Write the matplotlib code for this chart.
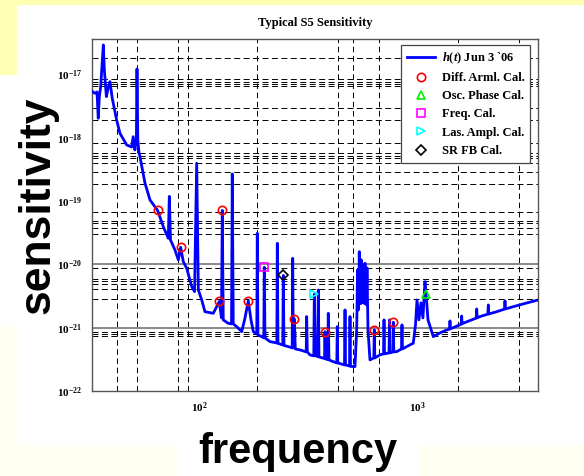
import numpy as np
import matplotlib
matplotlib.use("Agg")
import matplotlib.pyplot as plt
from matplotlib.patches import Rectangle
from matplotlib.ticker import FixedLocator, FuncFormatter, NullLocator

plt.rcParams['mathtext.fontset'] = 'custom'
plt.rcParams['mathtext.rm'] = 'Liberation Serif:bold'
plt.rcParams['mathtext.bf'] = 'Liberation Serif:bold'
plt.rcParams['mathtext.it'] = 'Liberation Serif:italic:bold'
plt.rcParams['lines.scale_dashes'] = False

# h(t) amplitude spectrum (Hz, strain/rtHz)
freq_hz = [32.5, 33.3, 34.05, 34.5, 34.9, 35.4, 36.4, 36.8, 37.6, 38.4,
           39.05, 40.0, 41.9, 43.4, 46.6, 49.1, 49.9, 50.8, 51.6, 51.95,
           52.4, 53.1, 53.6, 56.5, 59.6, 64.6, 68.6, 72.3, 73.1, 74.0,
           77.6, 80.4, 82.4, 84.7, 87.8, 92.6, 95.4, 97.6, 99.3, 102.9,
           106.5, 116.3, 123.9, 126.8, 127.9, 129.2, 135.8, 141.0, 142.1, 143.6,
           148.9, 157.0, 162.6, 168.3, 173.2, 177.5, 184.1, 185.1, 186.4, 193.9,
           198.3, 199.3, 200.8, 211.7, 227.5, 228.7, 230.3, 242.3, 243.6, 245.4,
           256.8, 267.6, 269.1, 270.8, 273.6, 276.6, 290.6, 310.3, 311.9, 313.9,
           323.0, 336.2, 338.0, 342.3, 350.7, 352.6, 355.1, 371.7, 376.9, 378.4,
           380.4, 389.8, 391.8, 394.7, 413.1, 428.6, 430.9, 433.2, 465.0, 467.6,
           470.0, 490.2, 492.9, 495.4, 519.5, 528.9, 531.0, 533.4, 535.5, 537.9,
           540.5, 543.6, 546.5, 549.5, 552.5, 555.4, 558.5, 561.3, 564.5, 567.3,
           570.0, 572.6, 575.0, 577.4, 580.5, 583.6, 586.5, 589.7, 596.0, 608.6,
           633.8, 637.0, 640.4, 676.5, 702.2, 705.9, 709.7, 744.1, 748.1, 752.0,
           776.3, 778.6, 782.9, 807.1, 849.0, 853.5, 858.0, 909.3, 961.6, 984.3,
           1000, 1021, 1043, 1065, 1088, 1106, 1123, 1188, 1275, 1369,
           1410, 1417, 1424, 1494, 1596, 1603, 1610, 1631, 1750, 1870,
           1879, 1888, 1945, 2114, 2124, 2134, 2321, 2520, 2533, 2546,
           2765, 3129, 3601]
asd = [5.37e-18, 5.07e-18, 5.31e-18, 2.04e-18, 4.48e-18, 6.44e-18, 2.94e-17, 1.18e-17, 4.48e-18, 6.44e-18,
       7.73e-18, 4.23e-18, 1.92e-18, 1.18e-18, 7.73e-19, 7.18e-19, 1.045e-18, 6.44e-19, 9.27e-19, 1.23e-17,
       9.27e-19, 5.77e-19, 5.05e-19, 1.94e-19, 1.045e-19, 7.13e-20, 3.95e-20, 2.59e-20, 1.19e-19, 2.44e-20,
       1.69e-20, 1.18e-20, 1.87e-20, 1.11e-20, 8.71e-21, 4.46e-21, 3.72e-21, 3.97e-19, 3.95e-21, 2.75e-21,
       1.79e-21, 1.69e-21, 2.60e-21, 1.43e-21, 7.13e-20, 1.33e-21, 1.18e-21, 1.15e-21, 2.69e-19, 1.15e-21,
       1.04e-21, 8.67e-22, 1.43e-21, 2.65e-21, 1.33e-21, 8.67e-22, 7.98e-22, 3.11e-20, 7.69e-22, 7.23e-22,
       6.90e-22, 9.03e-21, 6.90e-22, 6.03e-22, 5.75e-22, 2.16e-20, 5.65e-22, 5.35e-22, 6.70e-21, 5.25e-22,
       5.03e-22, 4.80e-22, 1.25e-20, 4.80e-22, 1.38e-21, 4.62e-22, 4.46e-22, 4.15e-22, 1.50e-21, 4.15e-22,
       3.72e-22, 3.59e-22, 3.38e-21, 3.59e-22, 3.52e-22, 3.95e-21, 3.46e-22, 3.30e-22, 3.27e-22, 8.67e-22,
       3.21e-22, 3.15e-22, 1.69e-21, 3.10e-22, 2.91e-22, 2.78e-22, 1.04e-21, 2.78e-22, 2.58e-22, 1.91e-21,
       2.58e-22, 2.49e-22, 1.50e-21, 2.45e-22, 2.43e-22, 9.23e-22, 2.2e-21, 8.18e-21, 2.4e-21, 1.91e-21,
       2.6e-21, 1.59e-20, 2.5e-21, 2.75e-21, 2.4e-21, 1.18e-20, 2.6e-21, 3.30e-21, 2.5e-21, 9.82e-21,
       2.6e-21, 2.75e-21, 2.4e-21, 1.045e-20, 2.5e-21, 2.75e-21, 2.3e-21, 8.81e-21, 9.23e-22, 3.10e-22,
       3.33e-22, 9.23e-22, 3.33e-22, 3.72e-22, 3.86e-22, 1.33e-21, 3.86e-22, 4.00e-22, 1.33e-21, 4.00e-22,
       4.15e-22, 1.22e-21, 4.15e-22, 4.19e-22, 4.62e-22, 1.11e-21, 4.62e-22, 5.16e-22, 5.69e-22, 1.11e-21,
       2.75e-21, 1.33e-21, 2.47e-21, 1.43e-21, 5.35e-21, 2.75e-21, 1.33e-21, 7.23e-22, 8.28e-22, 9.23e-22,
       9.5e-22, 1.28e-21, 9.6e-22, 1.03e-21, 1.14e-21, 1.53e-21, 1.15e-21, 1.18e-21, 1.30e-21, 1.42e-21,
       1.98e-21, 1.43e-21, 1.50e-21, 1.64e-21, 2.29e-21, 1.65e-21, 1.79e-21, 1.97e-21, 2.65e-21, 1.98e-21,
       2.15e-21, 2.42e-21, 2.75e-21]

# calibration lines
darm_f = [64.6, 82.4, 123.9, 127.9, 168.3, 273.6, 378.4, 637.0, 778.6]
darm_v = [7.13e-20, 1.87e-20, 2.60e-21, 7.13e-20, 2.65e-21, 1.38e-21, 8.67e-22, 9.23e-22, 1.22e-21]
osc_f, osc_v = [1100], [3.38e-21]
freqcal_f, freqcal_v = [199.3], [9.03e-21]
las_f, las_v = [338.0], [3.38e-21]
srfb_f, srfb_v = [243.6], [6.70e-21]

# the (sparse) grid lines as they appear in the picture
grid_x = [42.2, 51.8, 79.9, 88.8, 184.5, 432.9, 510.4, 667.3, 1547, 2937]
grid_y_exp = [-16.743, -17.074, -17.112, -17.148, -17.180, -17.532, -17.717, -18.076,
              -18.243, -18.286, -18.322, -18.401, -18.534, -18.728, -19.175, -19.313,
              -19.349, -19.428, -19.523, -20.05, -20.229, -20.261, -20.313, -20.392,
              -20.545, -21.062, -21.093, -21.130]
grid_y_major = [-20, -21]

W, H = 584, 476
fig = plt.figure(figsize=(W / 100, H / 100), dpi=100, facecolor='#FFFFF2')


def px_rect(x0, y0, x1, y1, color):
    fig.add_artist(Rectangle((x0 / W, 1 - y1 / H), (x1 - x0) / W, (y1 - y0) / H,
                             transform=fig.transFigure, facecolor=color,
                             edgecolor='none', zorder=-10))


# slide background pieces
px_rect(0, 0, W, 5, '#FFFFB4')
px_rect(0, 0, 17, 75, '#FFFFB4')
px_rect(17, 5, W, 445, 'white')
px_rect(0, 75, 17, 325, 'white')
px_rect(178, 440, 420, H, 'white')

ax = fig.add_axes([92 / W, 1 - 391 / H, 446 / W, 352 / H])
ax.set_xscale('log')
ax.set_yscale('log')
ax.set_xlim(32.3, 3590)
ax.set_ylim(1e-22, 3.65e-17)

for gx in grid_x:
    ax.axvline(gx, color='black', lw=0.7, ls=(0, (4.0, 2.6)), zorder=1)
for gy in grid_y_exp:
    ax.axhline(10.0 ** gy, color='black', lw=0.7, ls=(0, (4.3, 2.5)), zorder=1)
for gy in grid_y_major:
    ax.axhline(10.0 ** gy, color='#808080', lw=1.3, zorder=1)

ax.plot(freq_hz, asd, color='#0000FF', lw=2.0, zorder=3, label=r'$h(t)$ Jun 3 `06')
mk = dict(ls='none', ms=6, mew=1.2, mfc='none', zorder=4)
ax.plot(darm_f, darm_v, marker='o', mec='#FF0000', label='Diff. Arml. Cal.', **mk)
ax.plot(osc_f, osc_v, marker='^', mec='#00EE00', label='Osc. Phase Cal.', **mk)
ax.plot(freqcal_f, freqcal_v, marker='s', mec='#FF00FF', label='Freq. Cal.', **mk)
ax.plot(las_f, las_v, marker='>', mec='#00FFFF', label='Las. Ampl. Cal.', **mk)
ax.plot(srfb_f, srfb_v, marker='D', mec='black', label='SR FB Cal.',
        **{**mk, 'ms': 5})

ax.xaxis.set_major_locator(FixedLocator([1e2, 1e3]))
ax.xaxis.set_minor_locator(NullLocator())
ax.yaxis.set_major_locator(FixedLocator([1e-22, 1e-21, 1e-20, 1e-19, 1e-18, 1e-17]))
ax.yaxis.set_minor_locator(NullLocator())
fmt = FuncFormatter(lambda v, _: r'$\mathrm{10^{%d}}$' % int(round(np.log10(v))))
ax.xaxis.set_major_formatter(fmt)
ax.yaxis.set_major_formatter(fmt)
ax.tick_params(length=0, labelsize=8, pad=7)

for s in ax.spines.values():
    s.set_color('#555555')
    s.set_linewidth(1.0)

ax.set_title('Typical S5 Sensitivity', family='Liberation Serif', weight='bold',
             fontsize=9, pad=9)

leg = ax.legend(loc='upper right', bbox_to_anchor=(0.982, 0.984), frameon=True,
                fancybox=False, framealpha=1, edgecolor='#444444',
                prop={'family': 'Liberation Serif', 'weight': 'bold', 'size': 9},
                handlelength=2.3, handletextpad=0.5, labelspacing=0.5,
                borderpad=0.45, borderaxespad=0)
leg.get_frame().set_linewidth(0.9)

fig.text(38 / W, 1 - 205 / H, 'sensitivity', rotation=90, ha='center', va='center',
         family='Liberation Sans', weight='bold', fontsize=32)
fig.text(298 / W, 1 - 463 / H, 'frequency', ha='center', va='baseline',
         family='Liberation Sans', weight='bold', fontsize=30)

fig.savefig('out.png', dpi=100, facecolor=fig.get_facecolor())
